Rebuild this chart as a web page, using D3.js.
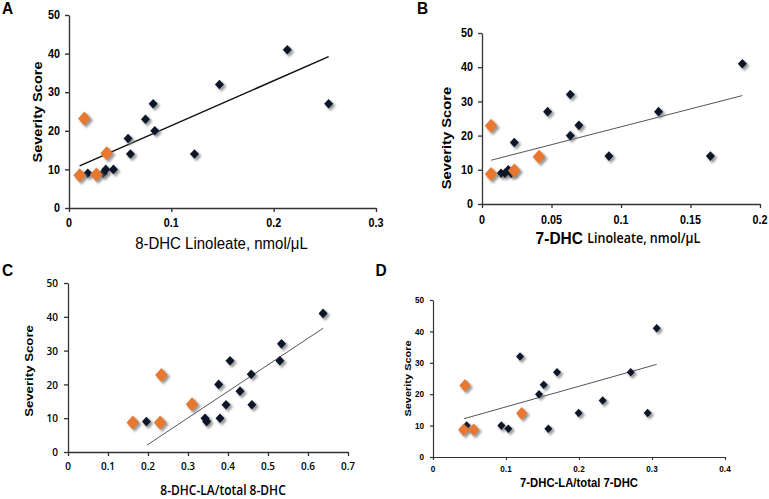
<!DOCTYPE html>
<html><head><meta charset="utf-8">
<script src="https://cdn.jsdelivr.net/npm/d3@7"></script>
<style>html,body{margin:0;padding:0;background:#fff;}svg{display:block;}</style>
</head><body>
<svg id="c" width="769" height="499"></svg>
<script>
// ---------- data ----------
const yTicks = [0, 10, 20, 30, 40, 50];

// Panel A: 8-DHC Linoleate
const aTicks = [0, 0.1, 0.2, 0.3];
const aTickLabels = ["0", "0.1", "0.2", "0.3"];
const aBlackX = [0.2133, 0.147, 0.2537, 0.0822, 0.0747, 0.0838, 0.0577, 0.060, 0.1226, 0.0434, 0.0359, 0.0333, 0.0183];
const aBlackY = [41, 32, 27, 27, 23, 20, 18, 14, 14, 10, 10, 9, 9];
const aOrangeX = [0.015, 0.0368, 0.0267, 0.0104];
const aOrangeY = [23.2, 14.2, 8.7, 8.5];
const aTrend = [[0.0104, 10.9], [0.2537, 39.2]];

// Panel B: 7-DHC Linoleate
const bTicks = [0, 0.05, 0.1, 0.15, 0.2];
const bTickLabels = ["0", "0.05", "0.1", "0.15", "0.2"];
const bBlackX = [0.1873, 0.0635, 0.0472, 0.127, 0.0697, 0.0635, 0.0232, 0.0913, 0.1643, 0.0189, 0.0137, 0.0165, 0.021];
const bBlackY = [41, 32, 27, 27, 23, 20, 18, 14, 14, 10, 9, 9, 9];
const bOrangeX = [0.0065, 0.0065, 0.0232, 0.041];
const bOrangeY = [22.9, 8.8, 9.8, 13.8];
const bTrend = [[0.0065, 12.8], [0.1873, 31.7]];

// Panel C: 8-DHC-LA / total 8-DHC
const cTicks = [0, 0.1, 0.2, 0.3, 0.4, 0.5, 0.6, 0.7];
const cTickLabels = ["0", "0.1", "0.2", "0.3", "0.4", "0.5", "0.6", "0.7"];
const cBlackX = [0.6376, 0.5337, 0.5296, 0.405, 0.458, 0.3766, 0.43, 0.395, 0.4597, 0.3425, 0.3467, 0.38, 0.196];
const cBlackY = [41, 32, 27, 27, 23, 20, 18, 14, 14, 10, 9, 10, 9];
const cOrangeX = [0.2336, 0.31, 0.162, 0.2303];
const cOrangeY = [22.8, 14.1, 8.7, 8.7];
const cTrend = [[0.197, 2.0], [0.6376, 36.6]];

// Panel D: 7-DHC-LA / total 7-DHC
const dTicks = [0, 0.1, 0.2, 0.3, 0.4];
const dTickLabels = ["0", "0.1", "0.2", "0.3", "0.4"];
const dBlackX = [0.3064, 0.1192, 0.1699, 0.2708, 0.1516, 0.1452, 0.2324, 0.1995, 0.294, 0.0936, 0.1032, 0.158, 0.0461];
const dBlackY = [41, 32, 27, 27, 23, 20, 18, 14, 14, 10, 9, 9, 10];
const dOrangeX = [0.0438, 0.1215, 0.042, 0.0557];
const dOrangeY = [22.8, 13.9, 8.7, 8.7];
const dTrend = [[0.0425, 12.2], [0.3064, 29.5]];

// ---------- drawing ----------
const svg = d3.select("#c");
const SY = 1.12;
const ARIAL = "Liberation Sans, Arial, sans-serif";
const GILL = "Open Sans, sans-serif";

const defs = svg.append("defs");
const f = defs.append("filter").attr("id", "sh").attr("x", "-50%").attr("y", "-50%").attr("width", "200%").attr("height", "200%");
f.append("feGaussianBlur").attr("stdDeviation", 1.3);

function label(x, y, txt, o) {
  const g = svg.append("g").attr("transform", `translate(${x},${y}) scale(1,${SY})` + (o.rot ? " rotate(-90)" : ""));
  const t = g.append("text").attr("x", 0).attr("y", 0)
    .attr("text-anchor", o.anchor || "middle").attr("dominant-baseline", "central")
    .attr("font-family", o.family || ARIAL).attr("font-size", o.size).attr("font-weight", o.weight || "normal")
    .attr("fill", o.fill || "#000");
  if (o.parts) {
    o.parts.forEach(p => t.append("tspan").attr("font-family", p.family).attr("font-size", p.size)
      .attr("font-weight", p.weight).text(p.text));
  } else t.text(txt);
  return t;
}

function panel(p) {
  const x = d3.scaleLinear().domain(p.xDomain).range([p.x0, p.x1]);
  const y = d3.scaleLinear().domain([0, 50]).range([p.y0, p.y1]);
  const g = svg.append("g");
  // axes
  const xa = g.append("g").attr("transform", `translate(0,${p.y0})`)
    .call(d3.axisBottom(x).tickValues(p.ticks).tickFormat(() => "").tickSize(p.tick).tickSizeOuter(0));
  const ya = g.append("g").attr("transform", `translate(${p.x0},0)`)
    .call(d3.axisLeft(y).tickValues(yTicks).tickFormat(() => "").tickSize(p.tick).tickSizeOuter(0));
  [xa, ya].forEach(a => {
    a.select(".domain").attr("stroke", p.axisColor).attr("stroke-width", p.axisW);
    a.selectAll(".tick line").attr("stroke", p.axisColor).attr("stroke-width", p.axisW);
  });
  // tick labels
  p.ticks.forEach((v, i) => label(x(v), p.y0 + p.xlOff, p.tickLabels[i],
    { size: p.tickSize, weight: p.tickWeight, family: p.tickFamily }));
  yTicks.forEach(v => label(p.x0 - p.ylOff, y(v), String(v),
    { size: p.tickSize, weight: p.tickWeight, family: p.tickFamily, anchor: "end" }));
  // trend line
  g.append("line").attr("x1", x(p.trend[0][0])).attr("y1", y(p.trend[0][1]))
    .attr("x2", x(p.trend[1][0])).attr("y2", y(p.trend[1][1]))
    .attr("stroke", p.trendColor).attr("stroke-width", p.trendW);
  // markers
  const dia = (w, h) => `M0,${-h}L${w},0L0,${h}L${-w},0Z`;
  const black = p.bx.map((v, i) => [v, p.by[i]]);
  const orange = p.ox.map((v, i) => [v, p.oy[i]]);
  const drawSet = (pts, w, h, fill) => {
    g.append("g").selectAll("path").data(pts).join("path")
      .attr("d", dia(w + 0.5, h + 0.5))
      .attr("transform", d => `translate(${x(d[0]) + 2},${y(d[1]) + 2})`)
      .attr("fill", "#7a7a7a").attr("opacity", 0.75).attr("filter", "url(#sh)");
    g.append("g").selectAll("path").data(pts).join("path")
      .attr("d", dia(w, h))
      .attr("transform", d => `translate(${x(d[0])},${y(d[1])})`)
      .attr("fill", fill);
  };
  drawSet(black, p.bw, p.bh, "#0d1628");
  drawSet(orange, p.ow, p.oh, "#e8782f");
}

panel({ xDomain: [0, 0.3], x0: 69, x1: 376, y0: 208, y1: 15, ticks: aTicks, tickLabels: aTickLabels,
  bx: aBlackX, by: aBlackY, ox: aOrangeX, oy: aOrangeY, trend: aTrend,
  tick: 4, axisColor: "#333", axisW: 1.4, trendColor: "#111", trendW: 1.5,
  tickSize: 10.8, tickWeight: "bold", tickFamily: ARIAL, xlOff: 14.5, ylOff: 9,
  bw: 4.5, bh: 4.8, ow: 6.3, oh: 7 });
panel({ xDomain: [0, 0.2], x0: 482, x1: 760, y0: 204, y1: 33, ticks: bTicks, tickLabels: bTickLabels,
  bx: bBlackX, by: bBlackY, ox: bOrangeX, oy: bOrangeY, trend: bTrend,
  tick: 4, axisColor: "#333", axisW: 1.3, trendColor: "#555", trendW: 1,
  tickSize: 10.8, tickWeight: "bold", tickFamily: ARIAL, xlOff: 16, ylOff: 9,
  bw: 4.5, bh: 4.8, ow: 6.3, oh: 7 });
panel({ xDomain: [0, 0.7], x0: 68, x1: 348, y0: 452, y1: 283, ticks: cTicks, tickLabels: cTickLabels,
  bx: cBlackX, by: cBlackY, ox: cOrangeX, oy: cOrangeY, trend: cTrend,
  tick: 4, axisColor: "#333", axisW: 1.3, trendColor: "#555", trendW: 1,
  tickSize: 10, tickWeight: "600", tickFamily: GILL, xlOff: 14, ylOff: 10,
  bw: 4.5, bh: 4.8, ow: 6.3, oh: 7 });
panel({ xDomain: [0, 0.4], x0: 433, x1: 725, y0: 457, y1: 300, ticks: dTicks, tickLabels: dTickLabels,
  bx: dBlackX, by: dBlackY, ox: dOrangeX, oy: dOrangeY, trend: dTrend,
  tick: 3, axisColor: "#333", axisW: 1.2, trendColor: "#555", trendW: 1,
  tickSize: 8.2, tickWeight: "bold", tickFamily: ARIAL, xlOff: 12, ylOff: 9,
  bw: 4, bh: 4.3, ow: 5.6, oh: 6.3 });

// panel letters
label(7.5, 8, "A", { size: 15.5, weight: "bold" });
label(422.5, 8, "B", { size: 15.5, weight: "bold" });
label(7.5, 270, "C", { size: 15.5, weight: "bold" });
label(381, 270, "D", { size: 15.5, weight: "bold" });

// axis titles
label(38, 112, "Severity Score", { size: 13, weight: "bold", rot: true });
label(221.5, 243, "8-DHC Linoleate, nmol/\u03bcL", { size: 15 });
label(446, 138, "Severity Score", { size: 13.2, weight: "bold", rot: true });
label(618, 237.5, "", { size: 13, parts: [
  { text: "7-DHC ", family: ARIAL, size: 15.5, weight: "bold" },
  { text: "Linoleate, nmol/\u03bcL", family: GILL, size: 12.5, weight: "600" }] });
label(29, 371, "Severity Score", { size: 11.8, weight: "bold", rot: true });
label(223, 490, "8-DHC-LA/total 8-DHC", { size: 12, weight: "600", family: GILL });
label(407.5, 378.5, "Severity Score", { size: 9.8, weight: "bold", rot: true });
label(579, 483, "7-DHC-LA/total 7-DHC", { size: 11.3, weight: "bold" });
</script>
</body></html>
